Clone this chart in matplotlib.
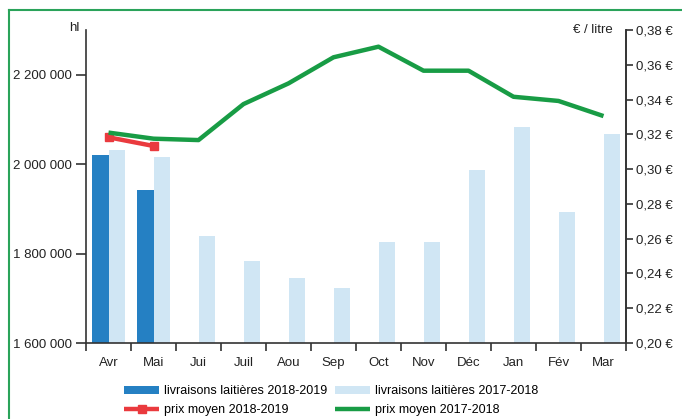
import numpy as np
import matplotlib.pyplot as plt
from matplotlib.lines import Line2D
from matplotlib.ticker import FuncFormatter

plt.rcParams['font.family'] = ['Liberation Sans', 'DejaVu Sans']

months = ["Avr", "Mai", "Jui", "Juil", "Aou", "Sep", "Oct", "Nov",
          "Déc", "Jan", "Fév", "Mar"]
livr_2018 = [2020000, 1942000]
livr_2017 = [2031000, 2017000, 1840000, 1784000, 1745000, 1723000,
             1825000, 1825000, 1988000, 2084000, 1894000, 2067000]
prix_2018 = [0.3183, 0.3133]
prix_2017 = [0.321, 0.3175, 0.3167, 0.3374, 0.3493, 0.3643,
             0.3704, 0.3566, 0.3566, 0.3416, 0.3392, 0.3305]

dark_blue = '#2580c3'
light_blue = '#d0e6f4'
green = '#189c45'
red = '#ea3a3e'
axis_col = '#333333'

x = np.arange(len(months))
w = 0.375

fig = plt.figure(figsize=(6.82, 4.19), dpi=100)
ax = fig.add_axes([86 / 682, 1 - 343 / 419, 540 / 682, 313 / 419])
ax2 = ax.twinx()

ax.bar(x[:len(livr_2018)] - w / 2, livr_2018, width=w, color=dark_blue,
       label="livraisons laitières 2018-2019", zorder=2)
ax.bar(x + w / 2, livr_2017, width=w, color=light_blue,
       label="livraisons laitières 2017-2018", zorder=2)

ax2.plot(x[:len(prix_2018)], prix_2018, color=red, lw=3.2, marker='s',
         markersize=6, solid_capstyle='butt', label="prix moyen 2018-2019")
ax2.plot(x, prix_2017, color=green, lw=3.2, solid_capstyle='butt',
         label="prix moyen 2017-2018")

ax.set_xlim(-0.5, len(months) - 0.5)
ax.set_ylim(1600000, 2300000)
ax2.set_ylim(0.20, 0.38)

ax.set_yticks([1600000, 1800000, 2000000, 2200000])
ax.yaxis.set_major_formatter(FuncFormatter(lambda v, p: f"{int(v):,}".replace(",", " ")))
ax2.set_yticks(np.arange(0.20, 0.381, 0.02))
ax2.yaxis.set_major_formatter(FuncFormatter(lambda v, p: f"{v:.2f} €".replace(".", ",")))

ax.set_xticks(np.arange(-0.5, len(months), 1.0))
ax.set_xticklabels([])
ax.set_xticks(x, minor=True)
ax.set_xticklabels(months, minor=True)
ax.tick_params(axis='x', which='major', direction='out', length=6, width=1.2, color=axis_col)
ax.tick_params(axis='x', which='minor', length=0, pad=10, labelsize=9.5, labelcolor='#222222')
ax.tick_params(axis='y', direction='out', length=7, width=1.2, color=axis_col,
               labelsize=9.5, labelcolor='#222222', pad=3)
ax2.tick_params(axis='y', direction='out', length=5, width=1.2, color=axis_col,
                labelsize=9.5, labelcolor='#222222', pad=2)

for a in (ax, ax2):
    a.spines['top'].set_visible(False)
    for s in a.spines.values():
        s.set_color(axis_col)
        s.set_linewidth(1.2)
ax2.spines['left'].set_visible(False)
ax2.spines['bottom'].set_visible(False)

fig.text(80 / 682, 1 - 28 / 419, "hl", ha='right', va='center', fontsize=9.5, color='#222222')
fig.text(613 / 682, 1 - 30 / 419, "€ / litre", ha='right', va='center', fontsize=9.5,
         color='#222222')

h1, l1 = ax.get_legend_handles_labels()
h2, l2 = ax2.get_legend_handles_labels()
handles = [h1[0], h2[0], h1[1], h2[1]]
labels = [l1[0], l2[0], l1[1], l2[1]]
fig.legend(handles, labels, loc='center', bbox_to_anchor=(331 / 682, 1 - 400.5 / 419),
           ncol=2, frameon=False, fontsize=9, handlelength=2.8, handleheight=0.6,
           columnspacing=0.6, handletextpad=0.4, labelspacing=0.55, borderpad=0)

# green frame (left and top edges)
fig.add_artist(Line2D([9 / 682, 9 / 682], [0, 1 - 10 / 419], transform=fig.transFigure,
                      color='#2aa35a', lw=1.5))
fig.add_artist(Line2D([9 / 682, 1], [1 - 10 / 419, 1 - 10 / 419], transform=fig.transFigure,
                      color='#2aa35a', lw=1.5))

fig.savefig("out.png", dpi=100)
